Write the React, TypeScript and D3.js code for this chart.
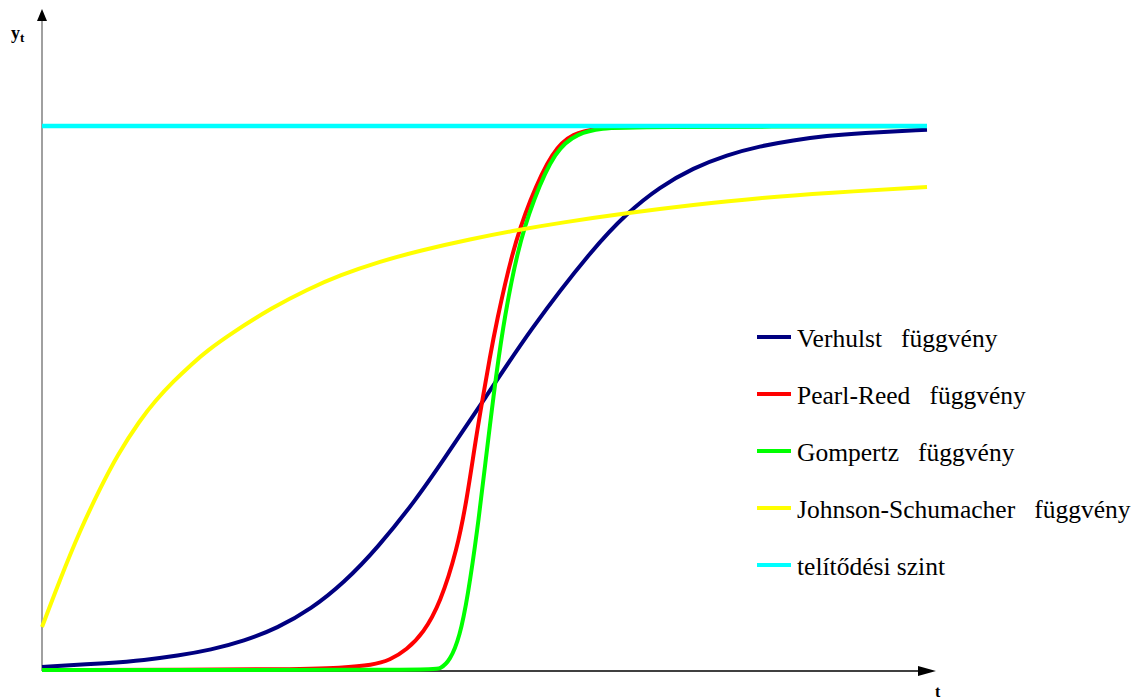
import React from "react";
import * as d3 from "d3";

// t values and function values (saturation level = 100)
const verhulstT = [0, 7.8, 11.5, 15.3, 19.1, 22.8, 26.6, 30.4, 34.1, 37.9, 42.4, 45.1, 50.1, 55.1, 62.3, 66.1, 69.8, 73.6, 77.4, 81.1, 84.9, 88.7, 92.4, 100];
const verhulstV = [0.55, 1.3, 1.8, 2.6, 3.7, 5.3, 7.7, 11.2, 16.0, 22.4, 31.6, 38.0, 50.0, 62.5, 77.6, 84.0, 88.8, 92.3, 94.7, 96.3, 97.4, 98.2, 98.7, 99.3];

const pearlT = [0, 29.2, 33.7, 37.4, 39.3, 41.2, 43.1, 45.0, 46.9, 48.0, 49.0, 49.8, 50.6, 51.3, 53.1, 55.1, 57.7, 60.0, 62.7, 66.1, 100];
const pearlV = [0, 0.1, 0.4, 0.9, 1.8, 3.7, 6.8, 12.3, 22.1, 31.3, 42.3, 50.0, 57.4, 63.5, 76.8, 86.4, 95.6, 98.7, 99.6, 100, 100];

const gompertzT = [0, 44.2, 45.0, 46.1, 47.2, 48.1, 49.2, 50.1, 51.0, 52.0, 53.7, 55.5, 58.0, 60.5, 63.4, 66.1, 100];
const gompertzV = [0, 0, 0.2, 1.7, 6.1, 13.4, 25.7, 38.1, 50.2, 62.5, 77.2, 86.4, 95.6, 98.7, 99.6, 99.8, 100];

const johnsonT = [0, 2.0, 4.3, 6.6, 8.5, 11.1, 12.8, 14.8, 17.1, 18.6, 21.4, 26.1, 29.9, 33.7, 38.2, 42.7, 48.4, 53.8, 58.5, 66.1, 73.6, 81.1, 88.7, 100];
const johnsonV = [7.9, 16.5, 25.7, 33.5, 39.5, 46.0, 49.5, 53.0, 56.5, 58.6, 61.9, 66.7, 69.9, 72.6, 75.1, 77.1, 79.2, 80.9, 82.2, 84.0, 85.5, 86.8, 87.7, 88.8];

const saturationT = [0, 100];
const saturationV = [100, 100];

const seriesNames = [
  "Verhulst   függvény",
  "Pearl-Reed   függvény",
  "Gompertz   függvény",
  "Johnson-Schumacher   függvény",
  "telítődési szint",
];
const seriesColors = ["#000080", "#FF0000", "#00FF00", "#FFFF00", "#00FFFF"];

export default function App() {
  const W = 1139;
  const H = 700;
  const x = d3.scaleLinear().domain([0, 100]).range([42, 927]);
  const y = d3.scaleLinear().domain([0, 100]).range([670, 126]);

  const line = d3
    .line<[number, number]>()
    .x((d) => x(d[0]))
    .y((d) => y(d[1]))
    .curve(d3.curveBasis);

  const zip = (ts: number[], vs: number[]) => ts.map((t, i) => [t, vs[i]] as [number, number]);

  const series = [
    zip(verhulstT, verhulstV),
    zip(pearlT, pearlV),
    zip(gompertzT, gompertzV),
    zip(johnsonT, johnsonV),
    zip(saturationT, saturationV),
  ];

  const x0 = x(0);
  const y0 = y(0) + 1;
  const legendX = 757;
  const legendY0 = 337;
  const legendStep = 57;
  const serif = "'Liberation Serif', 'Times New Roman', Times, serif";

  return (
    <div style={{ position: "fixed", left: 0, top: 0 }}>
      <svg width={W} height={H} style={{ display: "block", background: "#fff" }}>
        {/* axes */}
        <line x1={x0} y1={y0} x2={x0} y2={20} stroke="#808080" strokeWidth={1.5} />
        <polygon points={`${x0},9 ${x0 - 5},21 ${x0 + 5},21`} fill="#000" />
        <line x1={x0} y1={y0} x2={919} y2={y0} stroke="#000" strokeWidth={1.5} />
        <polygon points={`936,${y0} 918,${y0 - 5} 918,${y0 + 5}`} fill="#000" />

        {/* curves */}
        {series.map((s, i) => (
          <path
            key={i}
            d={line(s) || ""}
            fill="none"
            stroke={seriesColors[i]}
            strokeWidth={i === 4 ? 4.5 : 4}
            strokeLinejoin="round"
          />
        ))}

        {/* axis labels */}
        <text x={11} y={39} fontFamily={serif} fontWeight="bold" fontSize={18}>
          y
          <tspan fontSize={13} dy={3}>t</tspan>
        </text>
        <text x={935} y={697} fontFamily={serif} fontWeight="bold" fontSize={16}>
          t
        </text>

        {/* legend */}
        {seriesNames.map((name, i) => (
          <g key={name}>
            <line
              x1={legendX}
              x2={legendX + 34}
              y1={legendY0 + i * legendStep}
              y2={legendY0 + i * legendStep}
              stroke={seriesColors[i]}
              strokeWidth={4}
            />
            <text
              x={legendX + 40}
              y={legendY0 + i * legendStep + 10}
              fontFamily={serif}
              fontSize={25.5}
              fill="#000"
              style={{ whiteSpace: "pre" }}
              xmlSpace="preserve"
            >
              {name}
            </text>
          </g>
        ))}
      </svg>
    </div>
  );
}
